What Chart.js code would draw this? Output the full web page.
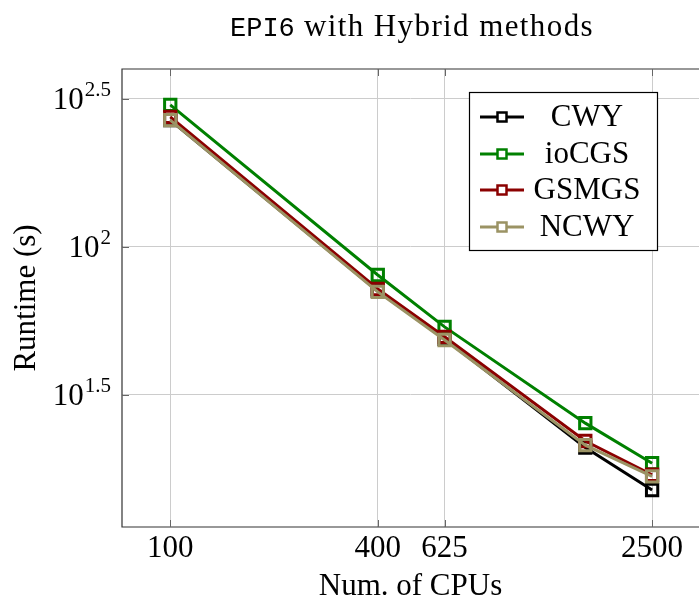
<!DOCTYPE html>
<html>
<head>
<meta charset="utf-8">
<script src="https://cdn.jsdelivr.net/npm/chart.js@4/dist/chart.umd.min.js"></script>
<style>
  html, body { margin: 0; padding: 0; background: #fff; }
  #wrap { width: 699px; height: 605px; }
</style>
</head>
<body>
<div id="wrap"><canvas id="c" width="699" height="605"></canvas></div>
<script>
// Runtimes (s) versus number of CPUs, log-log
const cpus = [100, 400, 625, 1600, 2500];
const cwy   = [268, 71.0, 48.9, 21.0, 15.1];
const iocgs = [302, 80.4, 53.7, 25.4, 18.6];
const gsmgs = [275, 72.1, 49.7, 22.1, 17.0];
const ncwy  = [268, 70.5, 48.5, 21.4, 16.8];

const seriesNames = ['CWY', 'ioCGS', 'GSMGS', 'NCWY'];
const xTickValues = [100, 400, 625, 2500];
const yTickExponents = [1.5, 2, 2.5];

const SERIF = "'Liberation Serif', 'DejaVu Serif', serif";
const MONO = "'Liberation Mono', 'DejaVu Sans Mono', monospace";
const colors = ['#000000', '#008000', '#8b0000', '#9b9364'];

function series(name, values, color, order) {
  return {
    label: name,
    data: cpus.map((x, i) => ({ x: x, y: values[i] })),
    borderColor: color,
    backgroundColor: 'rgba(0,0,0,0)',
    borderWidth: 3,
    pointStyle: 'rect',
    pointRadius: 8,
    pointHoverRadius: 8,
    pointBorderWidth: 3,
    pointBackgroundColor: 'rgba(0,0,0,0)',
    pointBorderColor: color,
    tension: 0,
    order: order
  };
}

// Title with a typewriter part, y tick labels as powers of ten,
// the axis frame with inner tick marks, and the boxed legend.
const decorations = {
  id: 'decorations',
  afterDatasetsDraw(chart) {
    const ctx = chart.ctx;
    const area = chart.chartArea;
    const xs = chart.scales.x, ys = chart.scales.y;
    ctx.save();

    // frame
    ctx.strokeStyle = '#333';
    ctx.lineWidth = 1.2;
    ctx.beginPath();
    ctx.moveTo(area.right + 2, area.top);
    ctx.lineTo(area.left, area.top);
    ctx.lineTo(area.left, area.bottom);
    ctx.lineTo(area.right + 2, area.bottom);
    ctx.stroke();

    // inner tick marks
    ctx.strokeStyle = '#666';
    ctx.lineWidth = 1;
    ctx.beginPath();
    xTickValues.forEach(v => {
      const px = Math.round(xs.getPixelForValue(v)) + 0.5;
      ctx.moveTo(px, area.bottom); ctx.lineTo(px, area.bottom - 7);
      ctx.moveTo(px, area.top); ctx.lineTo(px, area.top + 7);
    });
    yTickExponents.forEach(e => {
      const py = Math.round(ys.getPixelForValue(Math.pow(10, e))) + 0.5;
      ctx.moveTo(area.left, py); ctx.lineTo(area.left + 7, py);
    });
    ctx.stroke();

    // y tick labels 10^e
    ctx.fillStyle = '#000';
    ctx.textBaseline = 'alphabetic';
    yTickExponents.forEach(e => {
      const py = ys.getPixelForValue(Math.pow(10, e));
      const sup = String(e);
      ctx.font = '21px ' + SERIF;
      const wSup = ctx.measureText(sup).width;
      ctx.textAlign = 'right';
      const rightEdge = area.left - 11;
      ctx.fillText(sup, rightEdge, py - 3);
      ctx.font = '31px ' + SERIF;
      ctx.fillText('10', rightEdge - wSup - 1, py + 10);
    });

    // title
    const t1 = 'EPI6', t2 = ' with Hybrid methods';
    ctx.textAlign = 'left';
    ctx.font = '27px ' + MONO;
    ctx.letterSpacing = '0px';
    const w1 = ctx.measureText(t1).width;
    ctx.font = '31px ' + SERIF;
    ctx.letterSpacing = '1.4px';
    const w2 = ctx.measureText(t2).width;
    const cx = 412;
    const x0 = cx - (w1 + w2) / 2;
    ctx.font = '27px ' + MONO;
    ctx.letterSpacing = '0px';
    ctx.fillText(t1, x0, 36);
    ctx.font = '31px ' + SERIF;
    ctx.letterSpacing = '1.4px';
    ctx.fillText(t2, x0 + w1, 36);
    ctx.letterSpacing = '0px';

    // legend
    const box = { l: 469.5, t: 92.5, r: 657.5, b: 250.5 };
    ctx.fillStyle = '#fff';
    ctx.fillRect(box.l, box.t, box.r - box.l, box.b - box.t);
    ctx.strokeStyle = '#000';
    ctx.lineWidth = 1.2;
    ctx.strokeRect(box.l, box.t, box.r - box.l, box.b - box.t);
    const rowY = [117, 154, 190, 227];
    chart.data.datasets.forEach((ds, i) => {
      const y = rowY[i];
      ctx.strokeStyle = ds.borderColor;
      ctx.lineWidth = 3;
      ctx.beginPath();
      ctx.moveTo(480, y); ctx.lineTo(524, y);
      ctx.stroke();
      ctx.lineWidth = 2.5;
      ctx.fillStyle = '#fff';
      ctx.fillRect(497.5, y - 4.5, 9, 9);
      ctx.strokeRect(497.5, y - 4.5, 9, 9);
      ctx.fillStyle = '#000';
      ctx.font = '31px ' + SERIF;
      ctx.textAlign = 'center';
      ctx.textBaseline = 'middle';
      ctx.fillText(ds.label, 587, y + 1);
    });
    ctx.restore();
  }
};

new Chart(document.getElementById('c'), {
  type: 'line',
  data: {
    datasets: [
      series(seriesNames[0], cwy, colors[0], 4),
      series(seriesNames[1], iocgs, colors[1], 3),
      series(seriesNames[2], gsmgs, colors[2], 2),
      series(seriesNames[3], ncwy, colors[3], 1)
    ]
  },
  options: {
    responsive: false,
    animation: false,
    events: [],
    layout: { autoPadding: false, padding: { top: 69, right: 0, bottom: 0, left: 0 } },
    plugins: {
      legend: { display: false },
      title: { display: false },
      tooltip: { enabled: false }
    },
    scales: {
      x: {
        type: 'logarithmic',
        min: Math.pow(10, 1.86),
        max: Math.pow(10, 3.534),
        afterBuildTicks(scale) { scale.ticks = xTickValues.map(v => ({ value: v })); },
        afterFit(scale) {
          scale.height = 78;
          scale.paddingLeft = 0;
          scale.paddingRight = 0;
        },
        grid: { color: '#cccccc', lineWidth: 1, drawTicks: false },
        border: { display: false },
        ticks: {
          autoSkip: false, maxRotation: 0, padding: 3,
          color: '#000',
          font: { family: SERIF, size: 31 },
          callback: v => String(v)
        },
        title: {
          display: true, text: 'Num. of CPUs', color: '#000',
          font: { family: SERIF, size: 31 },
          padding: { top: 0, bottom: 0 }
        }
      },
      y: {
        type: 'logarithmic',
        min: Math.pow(10, 1.054),
        max: Math.pow(10, 2.601),
        afterBuildTicks(scale) { scale.ticks = yTickExponents.map(e => ({ value: Math.pow(10, e) })); },
        afterFit(scale) {
          scale.width = 122;
          scale.paddingTop = 0;
          scale.paddingBottom = 0;
        },
        grid: { color: '#cccccc', lineWidth: 1, drawTicks: false },
        border: { display: false },
        ticks: { display: false },
        title: {
          display: true, text: 'Runtime (s)', color: '#000',
          font: { family: SERIF, size: 31 },
          padding: { top: 8, bottom: 0 }
        }
      }
    }
  },
  plugins: [decorations]
});
</script>
</body>
</html>
